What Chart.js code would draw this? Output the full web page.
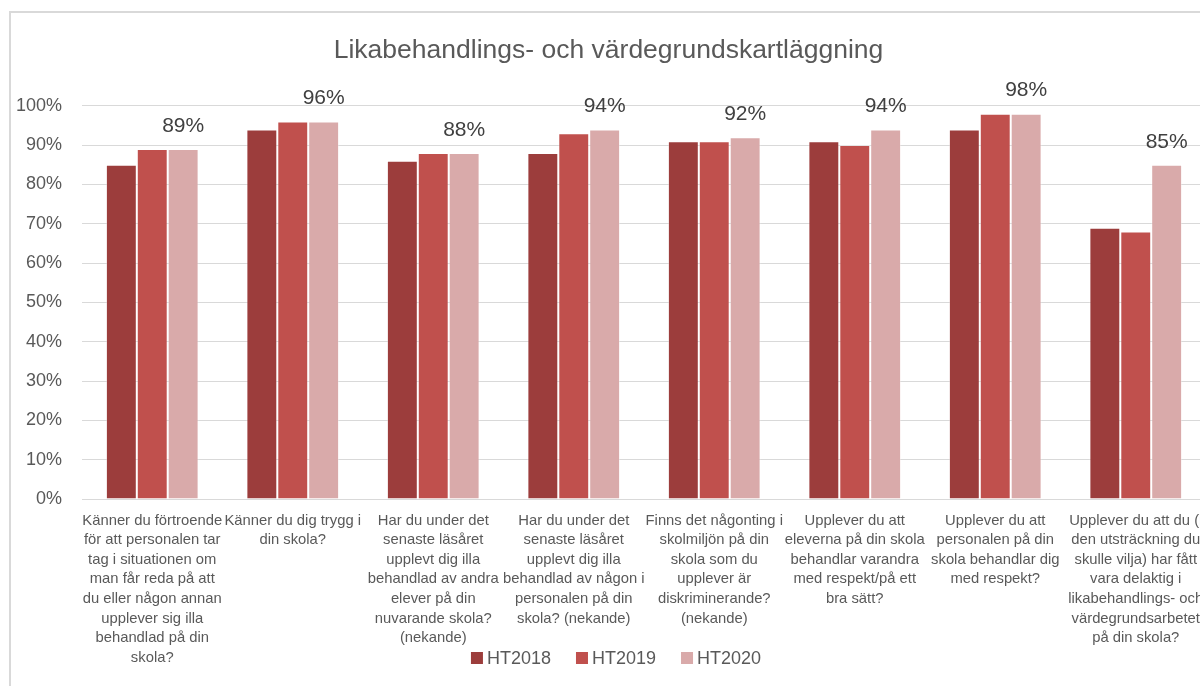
<!DOCTYPE html>
<html>
<head>
<meta charset="utf-8">
<script src="https://cdn.jsdelivr.net/npm/chart.js@4"></script>
<style>
  html, body { margin: 0; padding: 0; background: #fff; overflow: hidden; }
  #wrap { position: absolute; left: 9px; top: 11px; border-left: 2px solid #d9d9d9; border-top: 2px solid #d9d9d9; }
  canvas { display: block; }
</style>
</head>
<body>
<div id="wrap"><canvas id="chart" width="1200" height="673"></canvas></div>
<script>
// frågor (x-axel), en rad per textrad
var questions = [
  ["Känner du förtroende", "för att personalen tar", "tag i situationen om", "man får reda på att", "du eller någon annan", "upplever sig illa", "behandlad på din", "skola?"],
  ["Känner du dig trygg i", "din skola?"],
  ["Har du under det", "senaste läsåret", "upplevt dig illa", "behandlad av andra", "elever på din", "nuvarande skola?", "(nekande)"],
  ["Har du under det", "senaste läsåret", "upplevt dig illa", "behandlad av någon i", "personalen på din", "skola? (nekande)"],
  ["Finns det någonting i", "skolmiljön på din", "skola som du", "upplever är", "diskriminerande?", "(nekande)"],
  ["Upplever du att", "eleverna på din skola", "behandlar varandra", "med respekt/på ett", "bra sätt?"],
  ["Upplever du att", "personalen på din", "skola behandlar dig", "med respekt?"],
  ["Upplever du att du (i", "den utsträckning du", "skulle vilja) har fått", "vara delaktig i", "likabehandlings- och", "värdegrundsarbetet", "på din skola?"]
];
var ht2018 = [85, 94, 86, 88, 91, 91, 94, 69];
var ht2019 = [89, 96, 88, 93, 91, 90, 98, 68];
var ht2020 = [89, 96, 88, 94, 92, 94, 98, 85];

var FONT = "'Liberation Sans', Arial, sans-serif";
var grey = '#595959';

// etiketter ovanför HT2020
var topLabels = {
  id: 'topLabels',
  afterDatasetsDraw: function(chart) {
    var ctx = chart.ctx;
    var meta = chart.getDatasetMeta(2);
    ctx.save();
    ctx.font = '21px ' + FONT;
    ctx.fillStyle = '#404040';
    ctx.textAlign = 'center';
    ctx.textBaseline = 'middle';
    meta.data.forEach(function(bar, i) {
      ctx.fillText(ht2020[i] + '%', bar.x, bar.y - 23);
    });
    ctx.restore();
  }
};

// förklaring längst ner (ritas själv, så att x-etiketterna inte klipps)
var bottomLegend = {
  id: 'bottomLegend',
  afterDraw: function(chart) {
    var ctx = chart.ctx;
    var sets = chart.data.datasets;
    var box = 12, gapText = 4, gapItem = 25, y = 645;
    ctx.save();
    ctx.font = '18px ' + FONT;
    var total = 0;
    sets.forEach(function(ds, i) {
      total += box + gapText + ctx.measureText(ds.label).width + (i < sets.length - 1 ? gapItem : 0);
    });
    var x = 605 - total / 2;
    ctx.textBaseline = 'middle';
    sets.forEach(function(ds) {
      ctx.fillStyle = ds.backgroundColor;
      ctx.fillRect(x, y - box / 2, box, box);
      x += box + gapText;
      ctx.fillStyle = grey;
      ctx.fillText(ds.label, x, y + 1);
      x += ctx.measureText(ds.label).width + gapItem;
    });
    ctx.restore();
  }
};

var config = {
  type: 'bar',
  data: {
    labels: questions,
    datasets: [
      { label: 'HT2018', data: ht2018, backgroundColor: '#9c3d3c', borderColor: 'rgba(255,255,255,0.35)', borderWidth: 1 },
      { label: 'HT2019', data: ht2019, backgroundColor: '#c0504d', borderColor: 'rgba(255,255,255,0.35)', borderWidth: 1 },
      { label: 'HT2020', data: ht2020, backgroundColor: '#d9aaaa', borderColor: 'rgba(255,255,255,0.35)', borderWidth: 1 }
    ]
  },
  options: {
    responsive: false,
    animation: false,
    layout: { padding: { left: 0, right: 5, top: 0, bottom: 0 } },
    datasets: { bar: { categoryPercentage: 0.66, barPercentage: 1.0 } },
    plugins: {
      title: {
        display: true,
        text: 'Likabehandlings- och värdegrundskartläggning',
        color: grey,
        font: { family: FONT, size: 26.5, weight: 'normal' },
        padding: { top: 22, bottom: 39 }
      },
      legend: { display: false },
      tooltip: { enabled: false }
    },
    scales: {
      x: {
        grid: { display: false },
        border: { color: '#d9d9d9', width: 1 },
        ticks: {
          color: grey,
          font: { family: FONT, size: 14.8, lineHeight: 1.32 },
          maxRotation: 0, minRotation: 0, autoSkip: false, padding: 4
        },
        afterFit: function(scale) { scale.height = 187; }
      },
      y: {
        min: 0, max: 100,
        grid: { color: '#d9d9d9', lineWidth: 1, drawTicks: false },
        border: { display: false },
        ticks: {
          stepSize: 10, color: grey, padding: 20,
          font: { family: FONT, size: 18 },
          callback: function(v) { return v + '%'; }
        },
        afterFit: function(scale) { scale.width = 71; }
      }
    }
  },
  plugins: [topLabels, bottomLegend]
};

var chart = new Chart(document.getElementById('chart'), config);
</script>
</body>
</html>
